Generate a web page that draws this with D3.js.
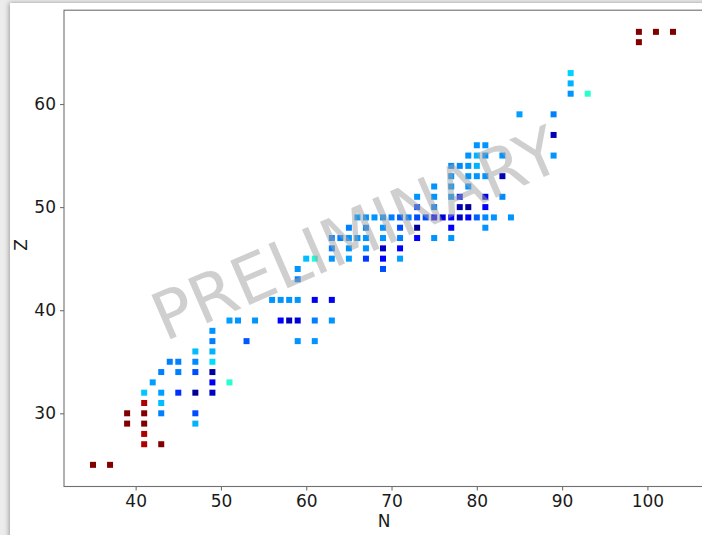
<!DOCTYPE html>
<html><head><meta charset="utf-8">
<script src="https://cdn.jsdelivr.net/npm/d3@7"></script>
<style>
html,body{margin:0;padding:0;background:#ececec;}
svg{display:block;}
</style></head>
<body>
<svg id="chart" width="702" height="535"></svg>
<script>
// ---- data ----
const reds_N = [35,37,39,39,41,41,41,41,41,43,99,99,101,103];
const reds_Z = [25,25,30,29,31,30,29,28,27,27,66,67,67,67];
const reds_C = [1,1,1,1,0.96,1,1,0.96,0.96,1,1,1,1,1];

const N = [41,42,43,43,43,43,44,45,45,45,47,47,47,47,47,47,49,49,49,49,49,49,49,51,51,52,53,54,
  56,57,58,59,61,63,57,58,59,61,63,59,61,59,59,60,61,63,65,67,69,71,69,63,65,67,69,71,
  63,64,65,66,67,69,71,73,75,77,
  65,67,69,71,73,77,81,
  66,67,68,69,70,71,72,73,74,75,76,77,78,79,80,81,82,84,
  73,75,78,79,81,
  73,75,77,78,81,83,
  75,77,79,
  77,79,80,81,83,
  77,78,79,80,
  79,80,81,83,89,
  80,81,
  89,
  85,89,
  91,93,91,91];
const Z = [32,33,34,32,31,30,35,35,34,32,36,35,34,32,30,29,38,37,36,35,34,33,32,33,39,39,37,39,
  41,41,41,41,41,41,39,39,39,39,39,37,37,44,43,45,45,45,45,45,45,45,44,46,46,46,46,46,
  47,47,47,47,47,47,47,47,47,47,
  48,48,48,48,48,48,48,
  49,49,49,49,49,49,49,49,49,49,49,49,49,49,49,49,49,49,
  50,50,50,50,50,
  51,51,51,51,51,51,
  52,52,52,
  53,53,53,53,53,
  54,54,54,54,
  55,55,55,55,55,
  56,56,
  57,
  59,59,
  61,61,62,63];
const C = [0.32,0.28,0.25,0.28,0.31,0.25,0.25,0.25,0.25,0.17,0.31,0.26,0.2,0.02,0.2,0.3,0.27,0.25,0.3,0.34,0.03,0.1,0.06,0.4,0.28,0.27,0.21,0.27,
  0.27,0.27,0.27,0.27,0.1,0.1,0.12,0.05,0.08,0.25,0.27,0.27,0.27,0.27,0.25,0.31,0.38,0.27,0.28,0.18,0.12,0.28,0.2,0.25,0.27,0.27,0.06,0.12,
  0.25,0.25,0.27,0.27,0.27,0.27,0.25,0.12,0.27,0.27,
  0.25,0.25,0.27,0.2,0.02,0.11,0.27,
  0.28,0.27,0.27,0.27,0.25,0.22,0.25,0.2,0.2,0.11,0.08,0.11,0.06,0.1,0.22,0.26,0.27,0.27,
  0.2,0.25,0.05,0.02,0.1,
  0.27,0.27,0.27,0.15,0.08,0.26,
  0.27,0.27,0.27,
  0.27,0.27,0.27,0.27,0.05,
  0.26,0.26,0.27,0.3,
  0.27,0.3,0.27,0.27,0.27,
  0.27,0.27,
  0.05,
  0.28,0.25,
  0.27,0.4,0.3,0.33];

const xTicks = [40,50,60,70,80,90,100];
const yTicks = [30,40,50,60];
const xLabel = "N", yLabel = "Z", watermark = "PRELIMINARY";

// ---- drawing ----
const svg = d3.select("#chart");
const defs = svg.append("defs");
const f = defs.append("filter").attr("id","sh").attr("x","-5%").attr("y","-5%").attr("width","110%").attr("height","110%");
f.append("feDropShadow").attr("dx",-1).attr("dy",0).attr("stdDeviation",2.5).attr("flood-color","#000").attr("flood-opacity",0.35);
svg.append("rect").attr("x",10).attr("y",3).attr("width",720).attr("height",560).attr("fill","#fff").attr("filter","url(#sh)");

const x = d3.scaleLinear().domain([31.6,106.4]).range([64,702]);
const y = d3.scaleLinear().domain([22.9,69.1]).range([486.5,10.2]);

// jet colormap channels
const rS = d3.scaleLinear().domain([0,0.35,0.66,0.89,1]).range([0,0,1,1,0.5]).clamp(true);
const gS = d3.scaleLinear().domain([0,0.125,0.375,0.64,0.91,1]).range([0,0,1,1,0,0]).clamp(true);
const bS = d3.scaleLinear().domain([0,0.11,0.34,0.65,1]).range([0.5,1,1,0,0]).clamp(true);
const jet = c => d3.rgb(255*rS(c),255*gS(c),255*bS(c)).toString();

const pts = [];
N.forEach((n,i)=>pts.push({n, z:Z[i], c:C[i]}));
reds_N.forEach((n,i)=>pts.push({n, z:reds_Z[i], c:reds_C[i]}));

const s = 6;
svg.append("g").selectAll("rect").data(pts).join("rect")
  .attr("x",d=>x(d.n)-s/2).attr("y",d=>y(d.z)-s/2)
  .attr("width",s).attr("height",s).attr("fill",d=>jet(d.c));

// watermark
svg.append("text").text(watermark)
  .attr("transform","translate(356,234) rotate(-23.5)")
  .attr("text-anchor","middle").attr("dominant-baseline","central")
  .attr("font-family","DejaVu Sans").attr("font-size",66)
  .attr("fill","#a0a0a0").attr("fill-opacity",0.5);

// frame
const axColor = "#707070";
svg.append("rect").attr("x",64).attr("y",10.2).attr("width",640).attr("height",476.3)
  .attr("fill","none").attr("stroke",axColor).attr("stroke-width",1.1);

const xAxis = svg.append("g").attr("transform","translate(0,486.5)")
  .call(d3.axisBottom(x).tickValues(xTicks).tickSize(4).tickPadding(4).tickFormat(d3.format("d")));
const yAxis = svg.append("g").attr("transform","translate(64,0)")
  .call(d3.axisLeft(y).tickValues(yTicks).tickSize(4).tickPadding(4).tickFormat(d3.format("d")));
[xAxis,yAxis].forEach(g=>{
  g.select(".domain").remove();
  g.selectAll(".tick line").attr("stroke",axColor).attr("stroke-width",1.1);
  g.selectAll(".tick text").attr("font-family","DejaVu Sans").attr("font-size",17).attr("fill","#1a1a1a");
});

svg.append("text").text(xLabel).attr("x",384).attr("y",527)
  .attr("text-anchor","middle").attr("font-family","DejaVu Sans").attr("font-size",17).attr("fill","#1a1a1a");
svg.append("text").text(yLabel).attr("transform","translate(27,245) rotate(-90)")
  .attr("text-anchor","middle").attr("font-family","DejaVu Sans").attr("font-size",17).attr("fill","#1a1a1a");
</script>
</body></html>
